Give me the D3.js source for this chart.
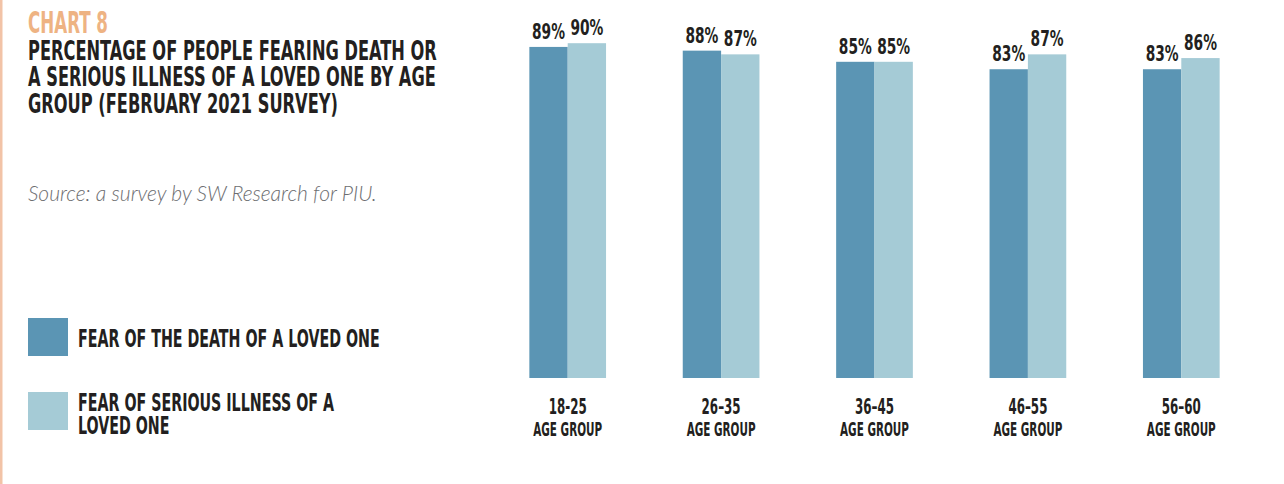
<!DOCTYPE html>
<html>
<head>
<meta charset="utf-8">
<title>Chart 8</title>
<script src="https://cdnjs.cloudflare.com/ajax/libs/d3/7.8.5/d3.min.js"></script>
<style>
  body { margin: 0; background: #fff; }
  #chart { width: 1284px; height: 484px; }
  .cond { font-family: "Liberation Sans Narrow", "DejaVu Sans Condensed", "Arial Narrow", sans-serif; font-weight: bold; fill: #231f20; }
  .source { font-family: Lato, sans-serif; font-style: italic; font-weight: 300; fill: #6d6e71; }
</style>
</head>
<body>
<div id="chart"></div>
<script>
  // data
  var groups = ["18-25", "26\u201335", "36\u201345", "46\u201355", "56\u201360"];
  var deathValues = [89, 88, 85, 83, 83];
  var illnessValues = [90, 87, 85, 87, 86];
  var colors = ["#5b95b4", "#a5cbd6"];

  var titleLines = ["PERCENTAGE OF PEOPLE FEARING DEATH OR",
                    "A SERIOUS ILLNESS OF A LOVED ONE BY AGE",
                    "GROUP (FEBRUARY 2021 SURVEY)"];
  var legendLines = [["FEAR OF THE DEATH OF A LOVED ONE"],
                     ["FEAR OF SERIOUS ILLNESS OF A", "LOVED ONE"]];

  var width = 1284, height = 484;

  var svg = d3.select("#chart").append("svg")
      .attr("width", width)
      .attr("height", height);

  // left accent line
  svg.append("rect").attr("x", 0).attr("y", 0).attr("width", 2.5).attr("height", height).attr("fill", "#f2c3a7");

  var x0 = d3.scaleBand().domain(groups).range([491, 1258]).paddingInner(0.5).paddingOuter(0.25);
  var x1 = d3.scaleBand().domain([0, 1]).range([0, x0.bandwidth()]);
  var y = d3.scaleLinear().domain([0, 100]).range([378, 6]);

  var rows = groups.map(function(g, i) {
    return { group: g, values: [deathValues[i], illnessValues[i]] };
  });

  // narrow a set of texts horizontally so the first one is `target` px wide
  function squeeze(sel, target) {
    var k = target / sel.node().getComputedTextLength();
    sel.each(function() {
      var t = d3.select(this);
      var tx = +t.attr("x"), ty = +t.attr("y");
      t.attr("x", 0).attr("y", 0)
       .attr("transform", "translate(" + tx + "," + ty + ") scale(" + k + ",1)");
    });
  }

  // title block
  var chartLbl = svg.append("text").attr("class", "cond").attr("x", 28).attr("y", 33)
      .style("font-size", "30px").style("fill", "#eeb383").text("CHART 8");
  squeeze(chartLbl, 80);

  var tl = svg.selectAll(".tl").data(titleLines).enter().append("text")
      .attr("class", "cond tl")
      .attr("x", 28)
      .attr("y", function(d, i) { return 59.5 + i * 26.5; })
      .style("font-size", "27px")
      .text(function(d) { return d; });
  squeeze(tl, 409);

  svg.append("text").attr("class", "source").attr("x", 28).attr("y", 201)
      .style("font-size", "21px")
      .text("Source: a survey by SW Research for PIU.");

  // legend
  var legendY = [318, 392];
  var lg = svg.selectAll(".lg").data(legendLines).enter().append("g").attr("class", "lg");
  lg.append("rect")
      .attr("x", 28).attr("y", function(d, i) { return legendY[i]; })
      .attr("width", 40).attr("height", 38)
      .attr("fill", function(d, i) { return colors[i]; });
  lg.each(function(lines, i) {
    var g = d3.select(this);
    var top = lines.length > 1 ? legendY[i] + 19 : legendY[i] + 29;
    lines.forEach(function(line, j) {
      g.append("text").attr("class", "cond lt")
        .attr("x", 78)
        .attr("y", top + j * 22.5)
        .style("font-size", "25px")
        .text(line);
    });
  });
  squeeze(svg.selectAll("text.lt"), 302);

  // bars
  var bg = svg.selectAll(".grp").data(rows).enter().append("g")
      .attr("class", "grp")
      .attr("transform", function(d) { return "translate(" + x0(d.group) + ",0)"; });

  bg.selectAll("rect").data(function(d) { return d.values; }).enter().append("rect")
      .attr("x", function(d, i) { return x1(i); })
      .attr("y", function(d) { return y(d); })
      .attr("width", x1.bandwidth())
      .attr("height", function(d) { return y(0) - y(d); })
      .attr("fill", function(d, i) { return colors[i]; });

  bg.selectAll(".val").data(function(d) { return d.values; }).enter().append("text")
      .attr("class", "cond val")
      .attr("x", function(d, i) { return x1(i) + x1.bandwidth() / 2; })
      .attr("y", function(d) { return y(d) - 8; })
      .attr("text-anchor", "middle")
      .style("font-size", "22px")
      .text(function(d) { return d + "%"; });
  squeeze(svg.selectAll("text.val"), 33);

  // x axis labels
  bg.append("text").attr("class", "cond xl")
      .attr("x", x0.bandwidth() / 2).attr("y", 414)
      .attr("text-anchor", "middle")
      .style("font-size", "21px")
      .text(function(d) { return d.group; });
  squeeze(svg.selectAll("text.xl"), 38);

  bg.append("text").attr("class", "cond ag")
      .attr("x", x0.bandwidth() / 2).attr("y", 436)
      .attr("text-anchor", "middle")
      .style("font-size", "20px")
      .text("AGE GROUP");
  squeeze(svg.selectAll("text.ag"), 69);
</script>
</body>
</html>
